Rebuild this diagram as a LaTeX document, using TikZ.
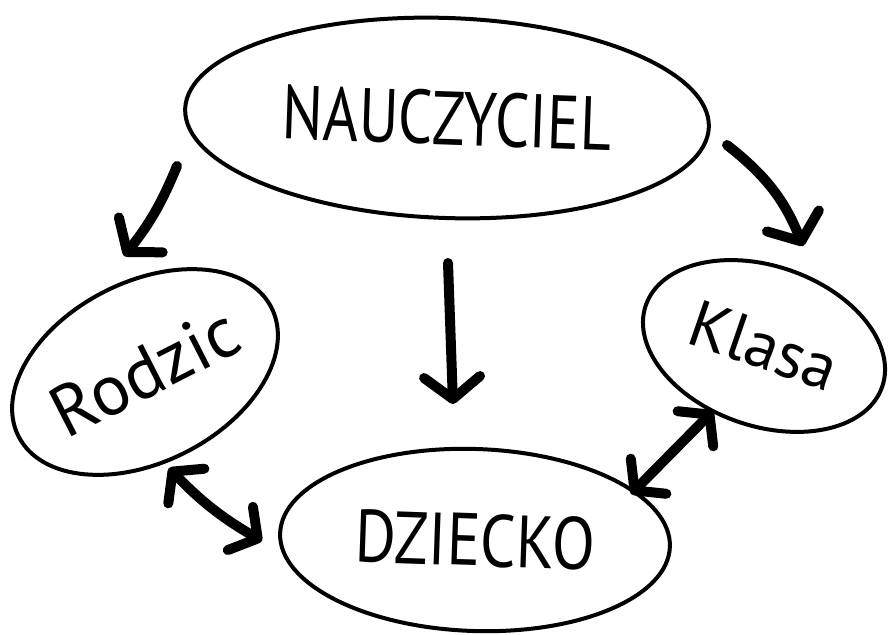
\documentclass[tikz,border=0pt]{standalone}
\usepackage{fontspec}
\setmainfont{PT Sans}
\usetikzlibrary{shapes.geometric,arrows.meta}
\tikzset{
  bubble/.style={ellipse, draw=black, line width=4pt, inner sep=0pt, align=center},
  fat/.style={line width=10pt, line cap=round, draw=black,
    -{Straight Barb[length=22pt,width=56pt,round]}},
  fatboth/.style={line width=10pt, line cap=round, draw=black,
    {Straight Barb[length=20pt,width=50pt,round]}-{Straight Barb[length=20pt,width=50pt,round]}}
}
\begin{document}
\begin{tikzpicture}[x=1pt,y=-1pt]
\useasboundingbox (0,0) rectangle (888,634);
% nodes
\node[bubble, minimum width=524pt, minimum height=200pt, rotate=-2] (n) at (447,118)
  {\scalebox{0.8}[1]{\fontsize{76}{80}\selectfont NAUCZYCIEL}};
\node[bubble, minimum width=282pt, minimum height=180pt, rotate=27] (r) at (145,372)
  {\fontsize{72}{76}\selectfont Rodzic};
\node[bubble, minimum width=250pt, minimum height=160pt, rotate=-19] (k) at (764,346)
  {\fontsize{66}{70}\selectfont Klasa};
\node[bubble, minimum width=390pt, minimum height=182pt, rotate=-2] (d) at (475,540)
  {\scalebox{0.85}[1]{\fontsize{74}{78}\selectfont DZIECKO}};
% arrow end points
\coordinate (a1s) at (177,166);
\coordinate (a1e) at (124,256);
\coordinate (a2s) at (448,263);
\coordinate (a2e) at (453,404);
\coordinate (a3s) at (727,145);
\coordinate (a3e) at (803,246);
\coordinate (a4s) at (169,468);
\coordinate (a4e) at (262,541);
\coordinate (a5s) at (631,494);
\coordinate (a5e) at (713,411);
% arrows
\draw[fat] (a1s) to[bend left=8] (a1e);
\draw[fat] (a2s) -- (a2e);
\draw[fat] (a3s) to[bend left=15] (a3e);
\draw[fatboth] (a4s) to[bend right=8] (a4e);
\draw[fatboth] (a5s) -- (a5e);
\end{tikzpicture}
\end{document}
